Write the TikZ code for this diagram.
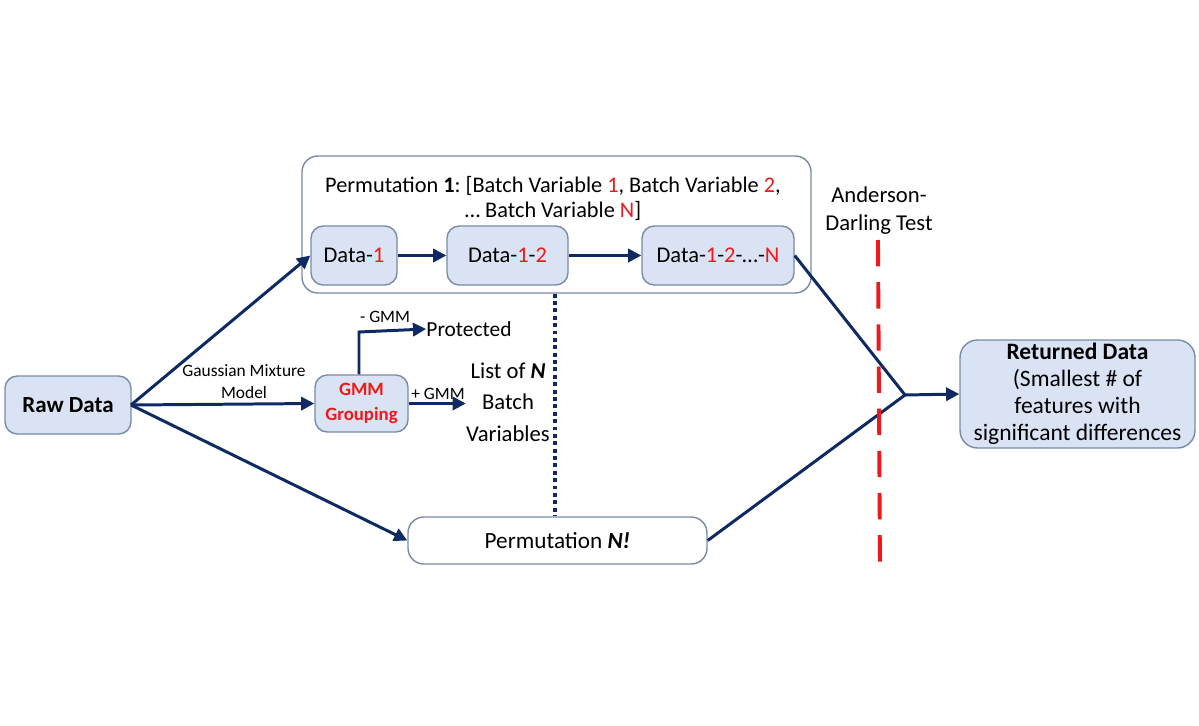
\documentclass[tikz,border=0pt]{standalone}
\usepackage{fontspec}
\setmainfont{Carlito}
\usetikzlibrary{arrows.meta}
\definecolor{navy}{HTML}{0F2A63}
\definecolor{boxfill}{HTML}{DAE3F3}
\definecolor{boxline}{HTML}{7A8BA6}
\definecolor{myred}{HTML}{F01818}
\newcommand{\rd}[1]{\textcolor{myred}{#1}}
\tikzset{
  bluebox/.style={draw=boxline, fill=boxfill, rounded corners=7pt, line width=0.8pt, inner sep=0pt, align=center, font=\fontsize{12.8}{15}\selectfont},
  whitebox/.style={draw=boxline, fill=white, rounded corners=9pt, line width=0.8pt, inner sep=0pt, align=center},
  conn/.style={draw=navy, line width=1.7pt},
  arr/.style={conn, -{Triangle[length=7.5pt,width=7.5pt]}},
  lbl/.style={font=\fontsize{12.8}{15}\selectfont, align=center, inner sep=0pt},
  small/.style={font=\fontsize{9.9}{12.5}\selectfont, align=center, inner sep=0pt},
}
\begin{document}
\begin{tikzpicture}[x=0.02cm,y=-0.02cm]
\useasboundingbox (0,0) rectangle (1199,726);
% outer permutation 1 box
\node[whitebox, minimum width=509*0.02cm, minimum height=137*0.02cm] (perm1) at (556.5,224.5) {};
\node[lbl, font=\fontsize{12.7}{14.2}\selectfont] (ptitle) at (553,198) {Permutation \textbf{1}:~[Batch Variable \rd{1}, Batch Variable \rd{2},\\ \ldots\ Batch Variable \rd{N}]};
% data boxes
\node[bluebox, minimum width=86*0.02cm, minimum height=59*0.02cm] (d1) at (354,255.5) {Data-\rd{1}};
\node[bluebox, minimum width=121*0.02cm, minimum height=59*0.02cm] (d12) at (507.5,255.5) {Data-\rd{1}-\rd{2}};
\node[bluebox, minimum width=152*0.02cm, minimum height=59*0.02cm] (dn) at (718,255.5) {Data-\rd{1}-\rd{2}-\ldots-\rd{N}};
% raw data
\node[bluebox, minimum width=126*0.02cm, minimum height=58*0.02cm, font=\fontsize{13.1}{15}\selectfont\bfseries] (raw) at (68,405) {Raw Data};
% GMM
\node[bluebox, minimum width=93*0.02cm, minimum height=57*0.02cm, font=\fontsize{10.7}{14}\selectfont\bfseries] (gmm) at (361.5,403.5) {\rd{GMM}\\\rd{Grouping}};
% permutation N!
\node[whitebox, minimum width=299*0.02cm, minimum height=47*0.02cm, font=\fontsize{13.2}{15}\selectfont] (permN) at (557.5,540.5) {Permutation \textbf{\textit{N!}}};
% returned data
\node[bluebox, rounded corners=10pt, minimum width=235*0.02cm, minimum height=108*0.02cm, font=\fontsize{13.4}{15.3}\selectfont] (ret) at (1077.5,394) {\textbf{Returned Data}\\(Smallest \# of\\features with\\significant differences};
% text labels
\node[small] (gauss) at (244,382) {Gaussian Mixture\\Model};
\node[lbl, font=\fontsize{12.2}{15}\selectfont] (prot) at (469,329) {Protected};
\node[small] (mgmm) at (385,317) {- GMM};
\node[small] (pgmm) at (438,394) {+ GMM};
\node[lbl, font=\fontsize{12.9}{18}\selectfont] (list) at (508,402) {List of \textbf{\textit{N}}\\Batch\\Variables};
\node[lbl, font=\fontsize{12.9}{16}\selectfont] (ad) at (879,211) {Anderson-\\Darling Test};
% connectors
\coordinate (rawr) at (131,405);
\coordinate (junc) at (905,395);
\draw[arr] (rawr) -- (d1.west);
\draw[arr] (rawr) -- (gmm.west |- 0,403.5);
\draw[arr] (rawr) -- (permN.west);
\draw[arr] (d1.east) -- (d12.west);
\draw[arr] (d12.east) -- (dn.west);
\coordinate (pbend) at (359,332);
\draw[arr] (gmm.north -| pbend) -- (pbend) -- (prot.west);
\draw[arr] (gmm.east) -- (list.west |- gmm.east);
\draw[navy, line width=2.2pt, dotted] (perm1.south -| 555,0) -- (permN.north -| 555,0);
\draw[conn] (dn.east) -- (junc);
\draw[conn] (permN.east) -- (junc);
\draw[arr] (junc) -- (ret.west);
% red dashed line
\coordinate (rtop) at (878,240);
\coordinate (rbot) at (880,570);
\draw[myred, line width=2.2pt, dash pattern=on 15pt off 9pt] (rtop) -- (rbot);
\end{tikzpicture}
\end{document}
